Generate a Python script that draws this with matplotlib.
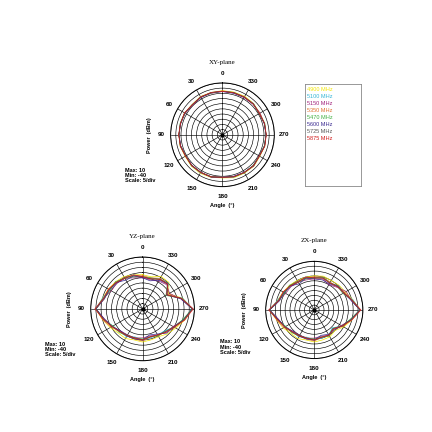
import numpy as np
import matplotlib.pyplot as plt

angles_deg = list(range(0, 360, 15))
freqs = ['4900 MHz', '5100 MHz', '5150 MHz', '5350 MHz', '5470 MHz', '5600 MHz', '5725 MHz', '5875 MHz']
colors = ['#f2e600', '#33b5d6', '#a0207a', '#e07030', '#3fae3f', '#3a2a90', '#555555', '#d01818']

# base patterns (dBm) per plane, 0..345 every 15 deg
xy_base = [2, 2, 2, 1, 2, 2, 2, 2, 1, 2, 2, 2, 1, 2, 2, 2, 1, 2, 2, 2, 1, 2, 2, 2]
yz_base = [-9, -7, -6, -4, -3, -1, 5, -1, -6, -9, -10, -11, -10, -12, -11, -9, -5, 1, 8, -1, -13, -6, -7, -10]
zx_base = [-7, -6, -7, -5, -4, -2, 6, -1, -5, -8, -9, -10, -9, -11, -10, -13, -7, -1, 7, 0, -5, -6, -8, -6]

# per-frequency deviations (dB)
freq_dev = [
    [2, 1, 2, 1, 1, 1, 0, 1, 2, 2, 3, 2, 2, 3, 2, 3, 2, 1, 0, 1, 2, 2, 3, 2],
    [0, 1, 0, -1, 0, 1, 0, 0, -1, 0, 1, -1, 0, 1, 0, -1, 0, 0, 0, 1, 0, 1, 0, 0],
    [-1, -2, 0, -1, -2, 0, 0, -1, 0, -1, -1, 0, -2, -1, 0, 1, -1, 0, 0, -1, 3, -1, -2, -1],
    [1, 0, 1, 0, 1, -1, 0, 1, 1, 0, 0, 1, 1, 0, 1, 0, 1, 0, 0, 0, 1, 0, 1, 1],
    [0, -1, 0, 1, -1, 0, 0, 0, -1, 1, 0, 0, -1, 0, 1, 0, 0, -1, 0, 0, -1, 0, 0, 1],
    [-1, 0, -2, 0, 0, -1, 0, -1, 0, -1, 0, 1, 0, -2, -1, 2, 0, 0, 0, -1, 0, 0, -1, -2],
    [0, 0, 1, 0, 0, 0, 0, 0, 0, 0, -1, 0, 0, 0, 0, 0, 0, 0, 0, 0, 0, 1, 0, 0],
    [0, 1, 0, 0, 1, 0, 1, 0, 0, 0, 0, 0, 0, 0, 0, 1, 0, 1, 1, 0, 0, 0, 0, 0],
]
xy_scale = 0.3  # XY plane is nearly omni, smaller spread

rmin, rmax = -40, 10
fig = plt.figure(figsize=(4.32, 4.32), dpi=100)
fig.patch.set_facecolor('white')
plt.rcParams['font.family'] = 'Liberation Serif'


def polar_panel(rect, title, base, scale):
    ax = fig.add_axes(rect, projection='polar')
    ax.set_theta_zero_location('N')
    ax.set_theta_direction(1)
    th = np.deg2rad(angles_deg + [angles_deg[0]])
    for dev, c in zip(freq_dev, colors):
        vals = [b + scale * d for b, d in zip(base, dev)]
        ax.plot(th, vals + [vals[0]], color=c, lw=0.5)
    ax.set_ylim(rmin, rmax)
    ax.set_yticks(np.arange(-35, 11, 5))
    ax.set_yticklabels([])
    ax.set_xticks(np.deg2rad(np.arange(0, 360, 30)))
    ax.set_xticklabels([str(a) for a in range(0, 360, 30)], fontsize=4.5, fontweight='bold',
                       family='Liberation Sans')
    ax.tick_params(axis='x', pad=-3.5)
    ax.grid(color='black', lw=0.45)
    ax.spines['polar'].set_linewidth(0.7)
    ax.plot([0], [rmin], 'ko', ms=2)
    fig.text(rect[0] + rect[2] / 2, rect[1] + rect[3] + 0.045, title, ha='center', fontsize=5)
    fig.text(rect[0] - 0.05, rect[1] + rect[3] / 2, 'Power  (dBm)', rotation=90, va='center',
             ha='center', fontsize=4, fontweight='bold', family='Liberation Sans')
    fig.text(rect[0] + rect[2] / 2, rect[1] - 0.038, 'Angle  (°)', ha='center', va='top',
             fontsize=4, fontweight='bold', family='Liberation Sans')
    fig.text(rect[0] - 0.105, rect[1] + 0.01, 'Max: 10\nMin: -40\nScale: 5/div', fontsize=4,
             fontweight='bold', family='Liberation Sans', linespacing=1.1)
    return ax


polar_panel([0.395, 0.568, 0.24, 0.24], 'XY-plane', xy_base, xy_scale)
polar_panel([0.21, 0.165, 0.24, 0.24], 'YZ-plane', yz_base, 1.0)
polar_panel([0.615, 0.17, 0.225, 0.225], 'ZX-plane', zx_base, 1.0)

# legend box
lax = fig.add_axes([0.705, 0.57, 0.13, 0.235])
lax.set_xticks([]); lax.set_yticks([])
for s in lax.spines.values():
    s.set_linewidth(0.6); s.set_color('#888888')
for i, (f, c) in enumerate(zip(freqs, colors)):
    lax.text(0.05, 0.97 - i * 0.068, f, color=c, fontsize=4, va='top', family='Liberation Sans')

fig.savefig('out.png', dpi=100)
